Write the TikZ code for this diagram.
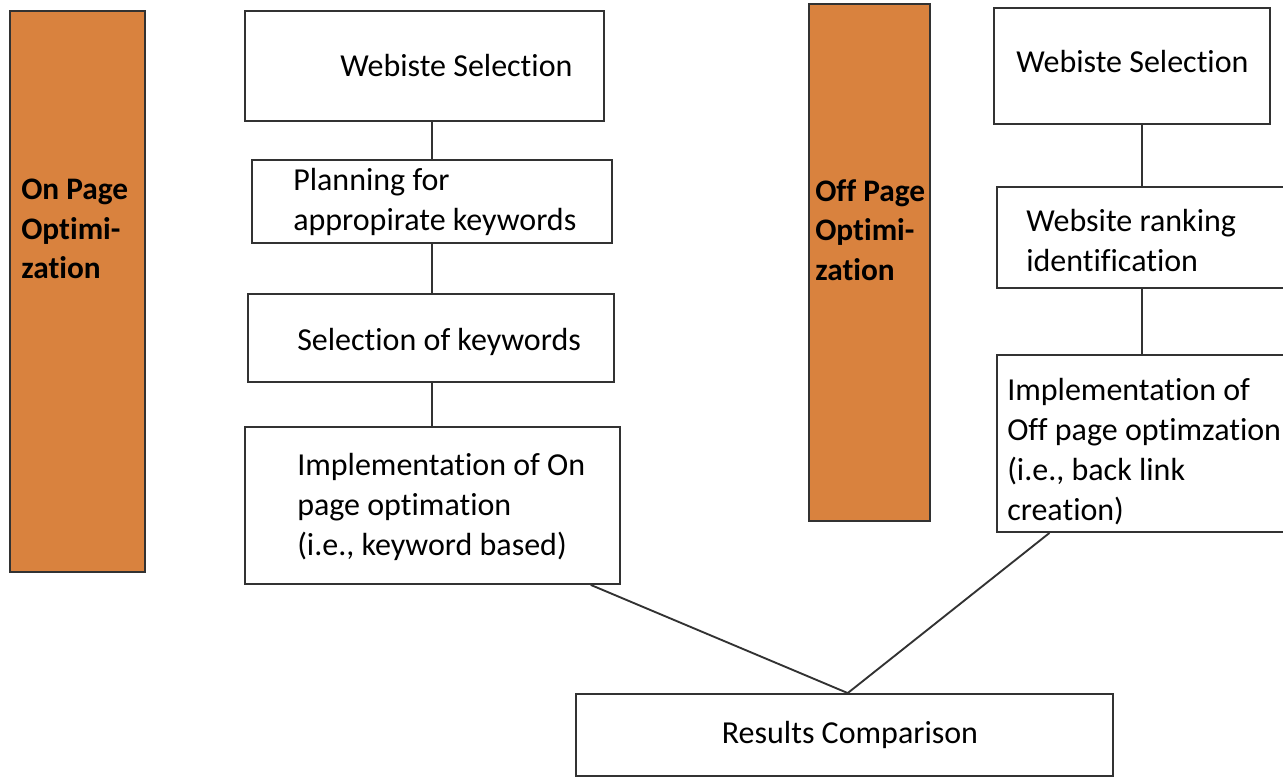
\documentclass[tikz,border=0pt]{standalone}
\usepackage{fontspec}
\setmainfont{Carlito}[Ligatures={NoCommon}]
\usetikzlibrary{fit,calc}
\definecolor{orng}{RGB}{217,130,62}
\definecolor{edge}{RGB}{50,50,50}
\tikzset{
  box/.style={draw=edge,line width=1.4pt,fill=white,inner sep=0pt},
  side/.style={draw=edge,line width=1.4pt,fill=orng,inner sep=0pt},
  lbl/.style={font=\fontsize{24pt}{30pt}\selectfont,text=black,inner sep=0pt,align=left,anchor=west},
  blbl/.style={lbl,font=\fontsize{23.5pt}{29.5pt}\selectfont\bfseries},
  conn/.style={draw=edge,line width=1.4pt}
}
\begin{document}
\begin{tikzpicture}[x=0.75pt,y=-0.75pt]
\clip (0,0) rectangle (1283,778);
\fill[white] (0,0) rectangle (1283,778);
% left side
\node[side,fit={(10,11)(145,572)}] (onp) {};
\node[blbl] (onpt) at (21,229) {On Page\\Optimi-\\zation};
\node[box,fit={(245,11)(604,121)}] (b1) {};
\node[lbl] (b1t) at (340,66) {Webiste Selection};
\node[box,fit={(252,160)(612,243)}] (b2) {};
\node[lbl] (b2t) at (293,202) {Planning for\\appropirate keywords};
\node[box,fit={(248,294)(614,382)}] (b3) {};
\node[lbl] (b3t) at (297,342) {Selection of keywords};
\node[box,fit={(245,427)(620,584)}] (b4) {};
\node[lbl] (b4t) at (297,507) {Implementation of On\\page optimation\\(i.e., keyword based)};
% right side
\node[side,fit={(809,4)(930,521)}] (offp) {};
\node[blbl] (offpt) at (815,230) {Off Page\\Optimi-\\zation};
\node[box,fit={(994,8)(1270,124)}] (r1) {};
\node[lbl] (r1t) at (1016,62) {Webiste Selection};
\node[box,fit={(997,187)(1287,288)}] (r2) {};
\node[lbl] (r2t) at (1026,241) {Website ranking\\identification};
\node[box,fit={(997,355)(1287,532)}] (r3) {};
\node[lbl] (r3t) at (1007,452) {Implementation of\\Off page optimzation\\(i.e., back link\\creation)};
% results
\node[box,fit={(576,694)(1113,776)}] (res) {};
\node[lbl,anchor=center] (rest) at (850,735) {Results Comparison};
% connectors
\draw[conn] (b2.north |- b1.south) -- (b2.north);
\draw[conn] (b2.south) -- (b2.south |- b3.north);
\draw[conn] (b2.south |- b3.south) -- (b2.south |- b4.north);
\draw[conn] (r2.north |- r1.south) -- (r2.north);
\draw[conn] (r2.south) -- (r3.north);
\coordinate (jn) at ($(res.north west)!0.506!(res.north east)$);
\draw[conn] ($(b4.south west)!0.92!(b4.south east)$) -- (jn);
\draw[conn] ($(r3.south west)!0.183!(r3.south east)$) -- (jn);
\end{tikzpicture}
\end{document}
